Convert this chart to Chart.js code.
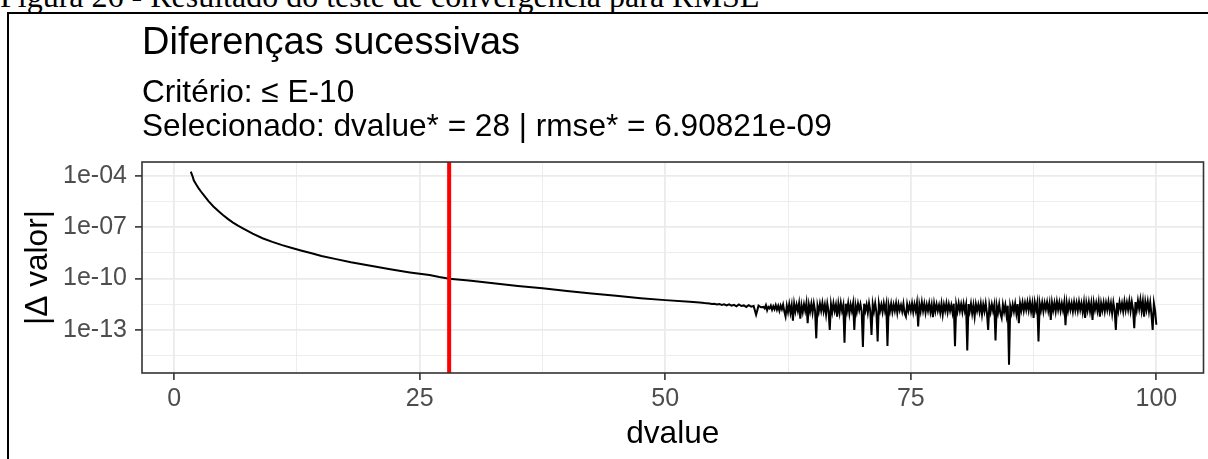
<!DOCTYPE html>
<html lang="pt">
<head>
<meta charset="utf-8">
<title>Diferenças sucessivas</title>
<script src="https://cdn.jsdelivr.net/npm/chart.js@4.4.1/dist/chart.umd.min.js"></script>
<style>
  html, body { margin: 0; padding: 0; background: #fff; }
  body { width: 1208px; height: 459px; position: relative; overflow: hidden; }
  #caption {
    position: absolute; left: 0; top: -20px;
    font: 32px/32px "Liberation Serif", "Times New Roman", serif;
    color: #000; white-space: nowrap;
  }
  #frame {
    position: absolute; left: 7px; top: 12px; width: 1220px; height: 470px;
    border-left: 2px solid #000; border-top: 2px solid #000;
  }
  #chartBox { position: absolute; left: 0; top: 0; width: 1208px; height: 459px; }
</style>
</head>
<body>
<div id="caption">Figura 26 - Resultado do teste de convergência para RMSE</div>
<div id="frame"></div>
<div id="chartBox"><canvas id="convChart" width="1208" height="459"></canvas></div>

<script>
'use strict';

// ── Daten ──
const titleText     = 'Diferenças sucessivas';
const subtitleLines = ['Critério: ≤ E-10', 'Selecionado: dvalue* = 28 | rmse* = 6.90821e-09'];
const xTitle = 'dvalue';
const yTitle = '|Δ valor|';

const selectedDvalue = 28;

// dvalue
const dvalue = [
  1.7, 1.8, 1.9, 2.0, 2.25, 2.5, 2.75, 3.0, 3.5, 4.0, 4.5, 5.0, 5.5, 6.0, 6.5, 7.0,
  8, 9, 10, 11, 12, 13, 14, 15, 16.5, 18, 20, 22, 24, 26, 27, 28, 30,
  32.5, 35, 37.5, 40, 42.5, 45, 47.5, 50, 52.5, 53.5,
  54, 54.25, 54.5, 54.75,   55, 55.25, 55.5, 55.75,   56, 56.25, 56.5, 56.75,
  57, 57.25, 57.5, 57.75,   58, 58.25, 58.5, 58.75,   59, 59.25, 59.5, 59.75,
  60, 60.125, 60.25, 60.375, 60.5, 60.625, 60.75, 60.875,
  61, 61.125, 61.25, 61.375, 61.5, 61.625, 61.75, 61.875,
  62, 62.125, 62.25, 62.375, 62.5, 62.625, 62.75, 62.875,
  63, 63.125, 63.25, 63.375, 63.5, 63.625, 63.75, 63.875,
  64, 64.125, 64.25, 64.375, 64.5, 64.625, 64.75, 64.875,
  65, 65.125, 65.25, 65.375, 65.5, 65.625, 65.75, 65.875,
  66, 66.125, 66.25, 66.375, 66.5, 66.625, 66.75, 66.875,
  67, 67.125, 67.25, 67.375, 67.5, 67.625, 67.75, 67.875,
  68, 68.125, 68.25, 68.375, 68.5, 68.625, 68.75, 68.875,
  69, 69.125, 69.25, 69.375, 69.5, 69.625, 69.75, 69.875,
  70, 70.125, 70.25, 70.375, 70.5, 70.625, 70.75, 70.875,
  71, 71.125, 71.25, 71.375, 71.5, 71.625, 71.75, 71.875,
  72, 72.125, 72.25, 72.375, 72.5, 72.625, 72.75, 72.875,
  73, 73.125, 73.25, 73.375, 73.5, 73.625, 73.75, 73.875,
  74, 74.125, 74.25, 74.375, 74.5, 74.625, 74.75, 74.875,
  75, 75.125, 75.25, 75.375, 75.5, 75.625, 75.75, 75.875,
  76, 76.125, 76.25, 76.375, 76.5, 76.625, 76.75, 76.875,
  77, 77.125, 77.25, 77.375, 77.5, 77.625, 77.75, 77.875,
  78, 78.125, 78.25, 78.375, 78.5, 78.625, 78.75, 78.875,
  79, 79.125, 79.25, 79.375, 79.5, 79.625, 79.75, 79.875,
  80, 80.125, 80.25, 80.375, 80.5, 80.625, 80.75, 80.875,
  81, 81.125, 81.25, 81.375, 81.5, 81.625, 81.75, 81.875,
  82, 82.125, 82.25, 82.375, 82.5, 82.625, 82.75, 82.875,
  83, 83.125, 83.25, 83.375, 83.5, 83.625, 83.75, 83.875,
  84, 84.125, 84.25, 84.375, 84.5, 84.625, 84.75, 84.875,
  85, 85.125, 85.25, 85.375, 85.5, 85.625, 85.75, 85.875,
  86, 86.125, 86.25, 86.375, 86.5, 86.625, 86.75, 86.875,
  87, 87.125, 87.25, 87.375, 87.5, 87.625, 87.75, 87.875,
  88, 88.125, 88.25, 88.375, 88.5, 88.625, 88.75, 88.875,
  89, 89.125, 89.25, 89.375, 89.5, 89.625, 89.75, 89.875,
  90, 90.125, 90.25, 90.375, 90.5, 90.625, 90.75, 90.875,
  91, 91.125, 91.25, 91.375, 91.5, 91.625, 91.75, 91.875,
  92, 92.125, 92.25, 92.375, 92.5, 92.625, 92.75, 92.875,
  93, 93.125, 93.25, 93.375, 93.5, 93.625, 93.75, 93.875,
  94, 94.125, 94.25, 94.375, 94.5, 94.625, 94.75, 94.875,
  95, 95.125, 95.25, 95.375, 95.5, 95.625, 95.75, 95.875,
  96, 96.125, 96.25, 96.375, 96.5, 96.625, 96.75, 96.875,
  97, 97.125, 97.25, 97.375, 97.5, 97.625, 97.75, 97.875,
  98, 98.125, 98.25, 98.375, 98.5, 98.625, 98.75, 98.875,
  99, 99.125, 99.25, 99.375, 99.5, 99.625, 99.75, 99.875,
  100,
];

// |Δ valor|
const deltaAbs = [
  1.8e-4, 1.26e-4, 8.9e-5, 5.6e-5, 3.2e-5, 1.9e-5, 1.2e-5, 7.8e-6, 3.4e-6, 1.66e-6, 8.9e-7, 5.1e-7, 3.0e-7, 1.9e-7, 1.26e-7, 8.7e-8,
  4.3e-8, 2.3e-8, 1.4e-8, 9.1e-9, 6.2e-9, 4.3e-9, 3.0e-9, 2.1e-9, 1.38e-9, 9.1e-10, 5.6e-10, 3.5e-10, 2.3e-10, 1.6e-10, 1.23e-10, 9.9e-11, 7.8e-11,
  5.4e-11, 3.7e-11, 2.7e-11, 1.86e-11, 1.35e-11, 9.8e-12, 7.1e-12, 5.5e-12, 4.4e-12, 4.0e-12,
  3.7e-12, 3.6e-12, 3.5e-12, 3.3e-12,     3.4e-12, 3.1e-12, 3.3e-12, 2.9e-12,     3.1e-12, 2.7e-12, 3.1e-12, 2.6e-12,
  2.9e-12, 2.4e-12, 3.1e-12, 2.5e-12,     2.7e-12, 2.2e-12, 2.8e-12, 2.3e-12,     2.5e-12, 7.6e-13, 2.6e-12, 2.1e-12,
  2.2e-12, 1.8e-12, 2.8e-12, 1.4e-12, 2.2e-12, 1.8e-12, 2.6e-12, 1.5e-12,   // 60
  2.4e-12, 1.6e-12, 2.8e-12, 1.5e-12, 2.5e-12, 1.3e-12, 2.6e-12, 1.6e-12,   // 61
  3.0e-12, 1.2e-12, 6.0e-13, 2.6e-12, 1.1e-12, 3.2e-12, 1.0e-12, 2.8e-12,   // 62
  3.5e-13, 3.4e-12, 1.2e-12, 3.0e-12, 1.3e-12, 3.6e-12, 4.5e-13, 2.8e-12,   // 63
  1.1e-12, 3.2e-12, 1.3e-12, 3.8e-12, 2.5e-13, 3.0e-12, 1.2e-12, 3.4e-12,   // 64
  1.0e-12, 3.6e-12, 1.4e-12, 3.2e-14, 2.6e-12, 1.1e-12, 3.4e-12, 1.3e-12,   // 65
  3.8e-12, 1.2e-12, 3.0e-12, 8.0e-13, 3.5e-12, 1.3e-12, 1.0e-13, 3.2e-12,   // 66
  1.1e-12, 3.6e-12, 1.3e-12, 3.0e-12, 6.0e-13, 3.4e-12, 1.0e-12, 3.8e-12,   // 67
  1.3e-12, 2.8e-12, 1.8e-14, 3.4e-12, 1.2e-12, 3.6e-12, 9.0e-13, 3.0e-12,   // 68
  1.3e-12, 3.5e-12, 1.0e-13, 2.8e-12, 1.1e-12, 3.4e-12, 1.4e-12, 3.2e-12,   // 69
  1.2e-12, 1.0e-14, 3.4e-12, 1.3e-12, 3.0e-12, 1.0e-12, 3.6e-12, 1.3e-12,   // 70
  5.0e-14, 3.2e-12, 1.2e-12, 3.6e-12, 1.1e-12, 2.1e-14, 3.4e-12, 1.3e-12,   // 71
  3.0e-12, 1.1e-12, 3.6e-12, 1.3e-12, 3.2e-12, 1.15e-14, 2.8e-12, 1.2e-12,  // 72
  3.4e-12, 1.1e-12, 3.0e-12, 1.3e-12, 3.6e-12, 1.0e-12, 3.2e-12, 1.4e-12,   // 73
  2.8e-12, 1.2e-12, 3.4e-12, 9.0e-13, 6.0e-13, 3.2e-12, 1.3e-12, 3.0e-12,   // 74
  1.3e-12, 3.6e-12, 1.1e-12, 3.2e-12, 1.3e-12, 3.8e-12, 1.6e-13, 3.0e-12,   // 75
  1.2e-12, 4.2e-12, 1.3e-12, 3.4e-12, 1.0e-12, 3.0e-12, 1.3e-12, 3.6e-12,   // 76
  1.1e-12, 3.0e-12, 5.5e-13, 3.4e-12, 1.2e-12, 3.2e-12, 1.3e-12, 2.8e-12,   // 77
  1.0e-12, 3.4e-12, 8.0e-13, 3.0e-12, 1.3e-12, 3.6e-12, 1.1e-12, 3.2e-12,   // 78
  1.3e-12, 2.8e-12, 1.0e-12, 3.4e-12, 1.1e-14, 3.0e-12, 1.2e-12, 3.6e-12,   // 79
  1.3e-12, 3.2e-12, 1.1e-12, 3.5e-12, 1.3e-12, 3.0e-12, 6.3e-15, 3.2e-12,   // 80
  1.2e-12, 3.4e-12, 9.0e-13, 2.8e-12, 6.0e-13, 3.2e-12, 1.3e-12, 3.0e-12,   // 81
  1.1e-12, 3.4e-12, 8.0e-13, 3.0e-12, 1.2e-12, 3.6e-12, 1.0e-12, 1.0e-13,   // 82
  2.8e-12, 1.1e-12, 3.2e-12, 1.3e-12, 3.0e-12, 2.4e-14, 2.6e-12, 1.0e-12,   // 83
  3.2e-12, 9.0e-13, 5.0e-13, 3.0e-12, 1.1e-12, 2.8e-12, 7.0e-13, 2.6e-12,   // 84
  9.0e-16, 2.4e-12, 1.0e-12, 3.0e-12, 1.2e-12, 3.4e-12, 9.0e-13, 3.2e-12,   // 85
  2.5e-13, 3.6e-12, 1.4e-12, 4.0e-12, 1.3e-12, 3.8e-12, 1.5e-12, 4.2e-12,   // 86
  1.4e-12, 4.5e-12, 1.2e-12, 3.6e-12, 5.0e-13, 4.0e-12, 1.5e-12, 3.8e-12,   // 87
  2.1e-14, 3.6e-12, 1.4e-12, 4.0e-12, 1.2e-12, 3.8e-12, 1.6e-12, 4.2e-12,   // 88
  1.3e-12, 3.6e-12, 3.8e-13, 4.0e-12, 1.4e-12, 3.8e-12, 1.2e-12, 4.4e-12,   // 89
  1.5e-12, 4.0e-12, 1.3e-12, 3.6e-12, 1.4e-12, 4.2e-12, 1.9e-13, 3.8e-12,   // 90
  1.3e-12, 4.0e-12, 1.5e-12, 3.6e-12, 1.2e-12, 4.2e-12, 1.4e-12, 3.8e-12,   // 91
  1.3e-12, 4.4e-12, 1.5e-12, 3.6e-12, 1.1e-12, 4.0e-12, 5.0e-13, 3.8e-12,   // 92
  1.4e-12, 4.2e-12, 1.2e-12, 3.6e-12, 3.8e-13, 4.0e-12, 1.5e-12, 3.8e-12,   // 93
  1.3e-12, 4.2e-12, 6.0e-13, 3.6e-12, 1.4e-12, 4.0e-12, 1.2e-12, 3.8e-12,   // 94
  1.5e-12, 4.4e-12, 1.3e-12, 3.6e-12, 9.0e-13, 4.0e-12, 1.4e-12, 1.0e-13,   // 95
  3.8e-12, 1.3e-12, 4.2e-12, 1.5e-12, 3.6e-12, 1.2e-12, 4.6e-12, 1.4e-12,   // 96
  4.0e-12, 1.5e-12, 5.0e-12, 1.3e-12, 4.4e-12, 1.6e-12, 1.25e-13, 4.2e-12,  // 97
  1.4e-12, 5.2e-12, 1.7e-12, 5.8e-12, 1.3e-12, 4.8e-12, 6.0e-13, 4.4e-12,   // 98
  1.5e-12, 4.6e-12, 1.2e-12, 4.0e-12, 8.0e-13, 1.0e-13, 3.6e-12, 1.3e-12,   // 99
  2.0e-13,
];

// Achsen
const xMin = -3.27, xMax = 104.8;
const yMin = 3.0e-16, yMax = 6.6e-4;
const xMajorTicks = [0, 25, 50, 75, 100];
const xMinorTicks = [12.5, 37.5, 62.5, 87.5];
const yMajorTicks = [1e-13, 1e-10, 1e-7, 1e-4];
const yMinorTicks = [3.16e-15, 3.16e-12, 3.16e-9, 3.16e-6];
const yTickLabels = ['1e-13', '1e-10', '1e-07', '1e-04'];

// ── Hilfsfunktionen ──
const isXMajor = v => xMajorTicks.includes(v);
const yMajorIndex = v => yMajorTicks.findIndex(t => Math.abs(Math.log10(t) - Math.log10(v)) < 0.01);

const GRID = '#ebebeb';
const DARK = '#333333';
const TICK_TEXT = '#4d4d4d';

Chart.defaults.font.family = '"Liberation Sans", Arial, sans-serif';
Chart.defaults.font.weight = 'normal';

// Rahmen um das Panel (theme_bw)
const panelBorder = {
  id: 'panelBorder',
  afterDatasetsDraw(chart) {
    const { ctx, chartArea: a } = chart;
    ctx.save();
    ctx.strokeStyle = DARK;
    ctx.lineWidth = 1.6;
    ctx.strokeRect(a.left, a.top, a.right - a.left, a.bottom - a.top);
    ctx.restore();
  }
};

new Chart(document.getElementById('convChart'), {
  type: 'line',
  data: {
    datasets: [
      {
        label: 'dvalue*',
        data: [{ x: selectedDvalue, y: yMin }, { x: selectedDvalue, y: yMax }],
        borderColor: '#ff0000',
        borderWidth: 4,
        pointRadius: 0,
        clip: 0,
        order: 0,
      },
      {
        label: '|Δ valor|',
        data: dvalue.map((x, i) => ({ x, y: deltaAbs[i] })),
        borderColor: '#000000',
        borderWidth: 2,
        pointRadius: 0,
        tension: 0,
        fill: false,
        clip: 0,
        order: 1,
      },
    ],
  },
  options: {
    responsive: false,
    animation: false,
    events: [],
    layout: { padding: { left: 0, right: 4.5, top: 0, bottom: 0 } },
    plugins: {
      legend: { display: false },
      tooltip: { enabled: false },
      title: {
        display: true, text: titleText, align: 'start', fullSize: false, color: '#000',
        font: { size: 38, weight: 'normal', lineHeight: 1.2 },
        padding: { top: 20.7, bottom: 0 },
      },
      subtitle: {
        display: true, text: subtitleLines, align: 'start', fullSize: false, color: '#000',
        font: { size: 31.6, weight: 'normal', lineHeight: 1.092 },
        padding: { top: 9.5, bottom: 17.2 },
      },
    },
    scales: {
      x: {
        type: 'linear',
        min: xMin, max: xMax,
        bounds: 'data',
        afterFit: s => { s.height = 86; },
        afterBuildTicks: s => {
          s.ticks = [...xMajorTicks, ...xMinorTicks].sort((a, b) => a - b).map(v => ({ value: v }));
        },
        ticks: {
          autoSkip: false, maxRotation: 0, padding: 4, color: TICK_TEXT,
          font: { size: 25 },
          callback: v => isXMajor(v) ? String(v) : '',
        },
        grid: {
          color: GRID,
          lineWidth: c => isXMajor(c.tick.value) ? 1.8 : 0.9,
          tickColor: c => isXMajor(c.tick.value) ? DARK : 'rgba(0,0,0,0)',
          tickLength: 7,
          tickWidth: 1.6,
        },
        border: { display: false },
        title: {
          display: true, text: xTitle, color: '#000',
          font: { size: 31.6, lineHeight: 1.2 },
          padding: { top: 0, bottom: 6 },
        },
      },
      y: {
        type: 'logarithmic',
        min: yMin, max: yMax,
        afterFit: s => { s.width = 142; },
        afterBuildTicks: s => {
          s.ticks = [...yMajorTicks, ...yMinorTicks].sort((a, b) => a - b).map(v => ({ value: v }));
        },
        ticks: {
          autoSkip: false, padding: 8, color: TICK_TEXT,
          font: { size: 25 },
          callback: v => { const i = yMajorIndex(v); return i >= 0 ? yTickLabels[i] : ''; },
        },
        grid: {
          color: GRID,
          lineWidth: c => yMajorIndex(c.tick.value) >= 0 ? 1.8 : 0.9,
          tickColor: c => yMajorIndex(c.tick.value) >= 0 ? DARK : 'rgba(0,0,0,0)',
          tickLength: 7,
          tickWidth: 1.6,
        },
        border: { display: false },
        title: {
          display: true, text: yTitle, color: '#000',
          font: { size: 31.6, lineHeight: 1.2 },
          padding: { top: 19, bottom: 0 },
        },
      },
    },
  },
  plugins: [panelBorder],
});
</script>
</body>
</html>
